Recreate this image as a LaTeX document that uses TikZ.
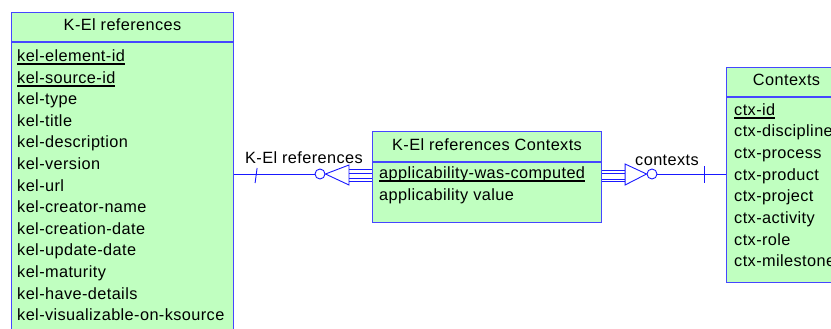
\documentclass[tikz,border=0pt]{standalone}
\usepackage{fontspec}
\setmainfont{Liberation Sans}[LetterSpace=2.5]
\usetikzlibrary{positioning}

\definecolor{entfill}{RGB}{192,255,192}
\definecolor{entline}{RGB}{70,70,255}
\definecolor{linkblue}{RGB}{25,25,255}
\newcommand{\pkey}[1]{\setbox0\hbox{#1}\rlap{\rule[-3.5pt]{\wd0}{1.6pt}}\box0}

\begin{document}
\begin{tikzpicture}[x=1pt,y=-1pt,
    font=\fontsize{16.3}{19}\selectfont,
    entity/.style={draw=entline, fill=entfill, line width=1.1pt, inner sep=0pt, anchor=north west},
    enthead/.style={entity, text depth=4pt},
    attr/.style={anchor=base west, inner sep=0pt},
    link/.style={draw=linkblue, line width=0.9pt}]
    \useasboundingbox (0,0) rectangle (831,329);
    \clip (0,0) rectangle (831,329);

    % K-El references
    \node [enthead, minimum width=222, minimum height=29] (kelhead) at (11,12) {K-El references};
    \node [entity, minimum width=222, minimum height=300] (kelbody) at (kelhead.south west) {};
    \foreach \a [count=\i from 0] in {\pkey{kel-element-id},\pkey{kel-source-id},kel-type,kel-title,%
        kel-description,kel-version,kel-url,kel-creator-name,kel-creation-date,kel-update-date,%
        kel-maturity,kel-have-details,kel-visualizable-on-ksource}{%
        \node [attr] (kel\i) at (17,{61.5+21.6*\i}) {\a};}

    % K-El references Contexts
    \node [enthead, minimum width=229, minimum height=30] (kcxhead) at (372,131) {K-El references Contexts};
    \node [entity, minimum width=229, minimum height=60] (kcxbody) at (kcxhead.south west) {};
    \node [attr] (kcx0) at (379,178.5) {\pkey{applicability-was-computed}};
    \node [attr] (kcx1) at (379,200.5) {applicability value};

    % Contexts
    \node [enthead, minimum width=120, minimum height=29] (ctxhead) at (726,67) {Contexts};
    \node [entity, minimum width=120, minimum height=185] (ctxbody) at (ctxhead.south west) {};
    \foreach \a [count=\i from 0] in {\pkey{ctx-id},ctx-discipline,ctx-process,ctx-product,%
        ctx-project,ctx-activity,ctx-role,ctx-milestone}{%
        \node [attr] (ctx\i) at (734,{115+21.7*\i}) {\a};}

    % link K-El references
    \node [link, circle, inner sep=0pt, minimum size=10] (kelo) at (320,174) {};
    \coordinate (kelend) at (kelbody.east |- kelo);
    \coordinate (kcxin) at (kcxbody.west |- kelo);
    \draw [link] (kelend) -- (kelo.west);
    \draw [link] ([xshift=23pt,yshift=6pt]kelend) -- ([xshift=21pt,yshift=-9pt]kelend);
    \draw [link] (kelo.east) -- ([xshift=-23pt,yshift=9pt]kcxin) -- ([xshift=-23pt,yshift=-11pt]kcxin) -- cycle;
    \foreach \dy in {4.5,0.7,-4.5,-7.5}
        \draw [link] ([xshift=-23pt,yshift=\dy pt]kcxin) -- ([yshift=\dy pt]kcxin);
    \node [anchor=base, inner sep=0pt] (kellbl) at (304,164) {K-El references};

    % link contexts
    \node [link, circle, inner sep=0pt, minimum size=10] (ctxo) at (652,174) {};
    \coordinate (kcxout) at (kcxbody.east |- ctxo);
    \coordinate (ctxend) at (ctxbody.west |- ctxo);
    \draw [link] (ctxo.east) -- (ctxend);
    \draw [link] ([xshift=-22pt,yshift=8pt]ctxend) -- ([xshift=-22pt,yshift=-9pt]ctxend);
    \draw [link] (ctxo.west) -- ([xshift=23pt,yshift=10pt]kcxout) -- ([xshift=23pt,yshift=-11pt]kcxout) -- cycle;
    \foreach \dy in {4,0.7,-5.3,-7.7}
        \draw [link] (kcxout) ++(0,-\dy) -- ++(23,0);
    \node [anchor=base, inner sep=0pt] (ctxlbl) at (667,165) {contexts};
\end{tikzpicture}
\end{document}
